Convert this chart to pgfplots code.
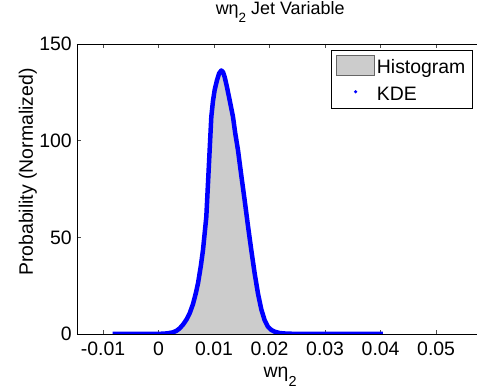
\documentclass[border=0pt]{standalone}
\usepackage{fontspec}
\setmainfont{Liberation Sans}
\usepackage{pgfplots}
\usepackage{pgfplotstable}
\pgfplotsset{compat=1.18}

\definecolor{histgray}{rgb}{0.8,0.8,0.8}
\definecolor{kdeblue}{rgb}{0,0,1}

% kernel density estimate
\pgfplotstableread{
x y
-0.0083 0.0
-0.0040 0.0
0.0000 0.05
0.0015 0.3
0.0025 0.8
0.0032 1.6
0.0038 2.9
0.0045 5.2
0.0051 7.8
0.0056 10.7
0.0062 15.5
0.0067 21
0.0071 26.2
0.0076 35
0.0080 43.4
0.0083 52
0.0086 60.7
0.0089 77.9
0.0092 95.2
0.0095 112.4
0.0098 120.5
0.0101 126.2
0.0105 131
0.0109 134.8
0.0113 136.3
0.0116 135.5
0.0119 133
0.0123 128
0.0128 121
0.0134 112.4
0.0138 104
0.0143 95.2
0.0149 82
0.0155 69.3
0.0161 56
0.0167 43.4
0.0173 31.5
0.0179 21
0.0185 12.8
0.0191 7.2
0.0197 3.8
0.0203 2.1
0.0209 1.2
0.0218 0.5
0.0230 0.2
0.0250 0.05
0.0300 0.0
0.0404 0.0
}\kdetable

\newcommand{\lbl}{\fontsize{19.5}{21}\selectfont}
\newcommand{\weta}{wη\raisebox{-0.42em}{\fontsize{14.5}{14.5}\selectfont 2}}
\newcommand{\wetat}{wη\raisebox{-0.45em}{\fontsize{13.5}{13.5}\selectfont 2}}

\begin{document}
\begin{tikzpicture}
\path[use as bounding box] (-77bp,-55bp) rectangle (400bp,334bp);
\begin{axis}[
    at={(0,0)}, anchor=south west,
    scale only axis,
    width=406.3bp, height=290bp,
    xmin=-0.0147, xmax=0.0585,
    ymin=0, ymax=150,
    xtick={-0.01,0,0.01,0.02,0.03,0.04,0.05},
    xticklabels={-0.01,0,0.01,0.02,0.03,0.04,0.05},
    ytick={0,50,100,150},
    yticklabels={0,50,100,150},
    scaled x ticks=false,
    tick align=inside,
    major tick length=4bp,
    axis line style={line width=0.8bp},
    tick style={line width=0.6bp, black!70},
    tick label style={font=\lbl},
    xticklabel style={anchor=base, yshift=-21bp},
    yticklabel style={anchor=east, inner xsep=0pt, xshift=-5bp},
    title={\wetat{} Jet Variable},
    title style={font=\fontsize{18}{20}\selectfont, inner sep=0pt,
        at={(rel axis cs:0.5,1.0828)}, anchor=base},
    xlabel={\weta},
    xlabel style={font=\lbl, at={(rel axis cs:0.5,-0.1517)}, anchor=base},
    ylabel={Probability (Normalized)},
    ylabel style={font=\lbl, at={(rel axis cs:-0.1083,0.5586)}, anchor=base},
    legend cell align=left,
    legend style={
        at={(rel axis cs:0.6252,0.9793)}, anchor=north west,
        draw=black, line width=0.6bp, fill=white,
        inner xsep=5bp, inner ysep=2bp, row sep=0pt,
        font=\lbl,
        nodes={inner xsep=2bp, inner ysep=3bp, text height=18bp, text depth=3bp},
        /tikz/every even column/.style={column sep=0pt},
    },
]
\addplot[fill=histgray, draw=none,
    legend image code/.code={
        \draw[draw=black!60, fill=histgray, line width=0.6bp] (0bp,-9bp) rectangle (38bp,11bp);
    }] table {\kdetable} \closedcycle;
\addlegendentry{Histogram}
\addplot[kdeblue, line width=4.5bp, line join=round,
    legend image code/.code={
        \path[draw=none, fill=none] (0bp,0bp) -- (38bp,0bp);
        \path[draw=none, fill=kdeblue] (19bp,1bp) circle (1.8bp);
    }] table {\kdetable};
\addlegendentry{KDE}
\end{axis}
\end{tikzpicture}
\end{document}
